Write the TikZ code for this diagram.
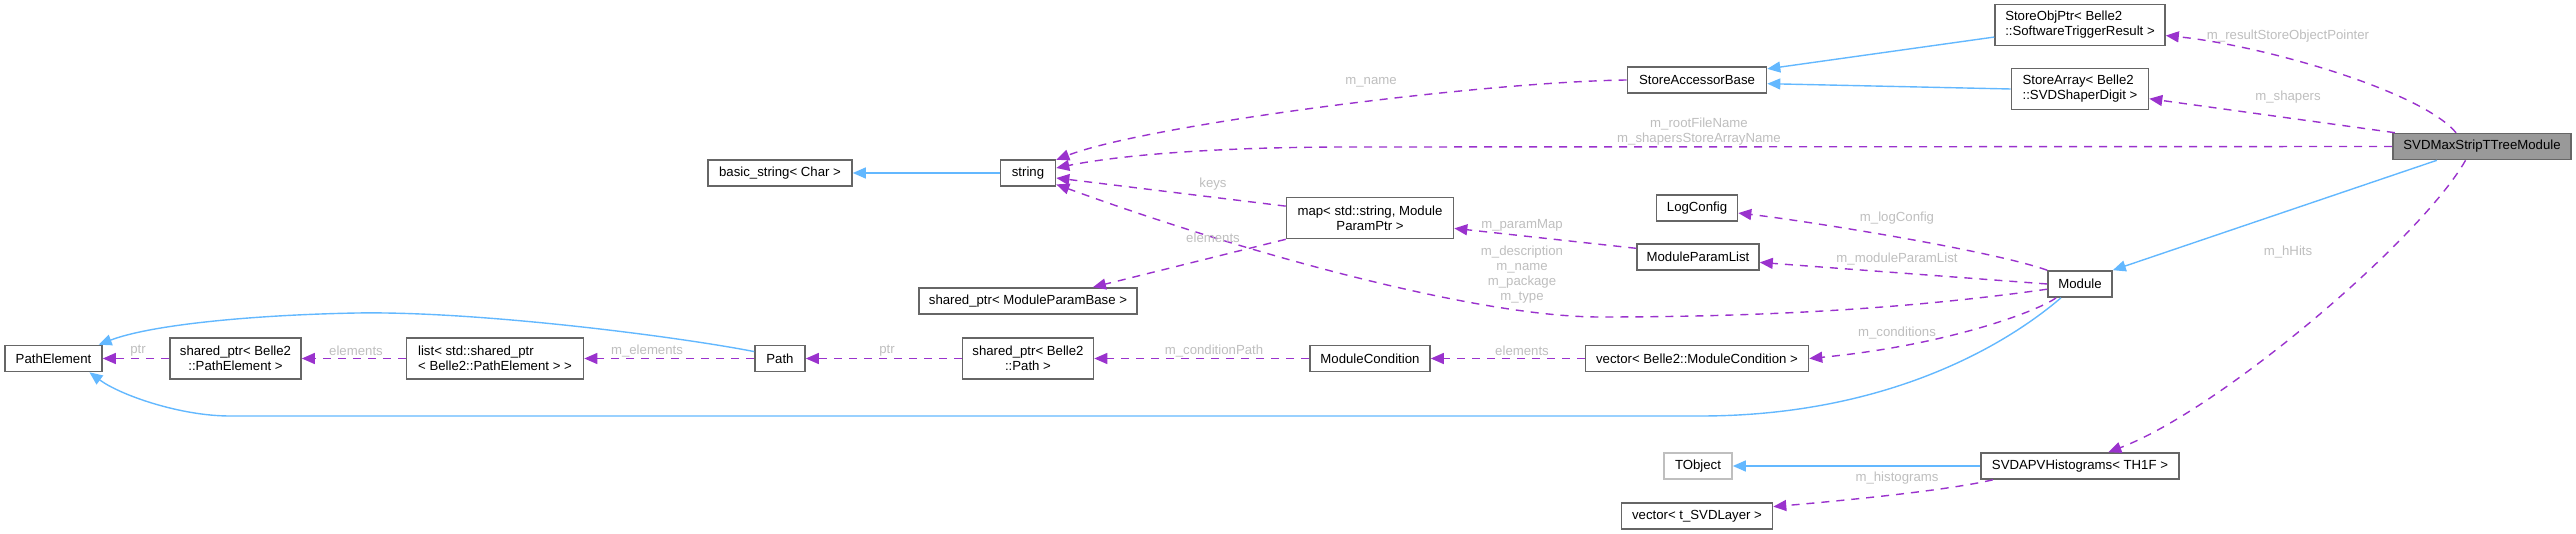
\documentclass[tikz,border=0pt]{standalone}
\usepackage{fontspec}
\setmainfont{Liberation Sans}
\usetikzlibrary{arrows.meta}
\definecolor{edgeblue}{HTML}{63B8FF}
\definecolor{edgepurple}{HTML}{9A32CD}
\definecolor{nodeborder}{HTML}{666666}
\definecolor{labelgray}{HTML}{BEBEBE}
\definecolor{lightborder}{HTML}{BFBFBF}
\definecolor{mainfill}{HTML}{999999}
\begin{document}
\begin{tikzpicture}[x=0.5pt,y=-0.5pt,
  font=\fontsize{6.6pt}{7.5pt}\selectfont,
  cls/.style={draw=nodeborder, line width=0.8pt, fill=white, inner sep=0pt, minimum height=13pt, align=center},
  cls2/.style={cls, minimum height=20.5pt},
  lbl/.style={text=labelgray, inner sep=0pt, align=center},
  inh/.style={draw=edgeblue, line width=0.7pt, -{Triangle[length=6.5pt,width=5.5pt]}, fill=none},
  dep/.style={draw=edgepurple, line width=0.7pt, dash pattern=on 4pt off 3.5pt, -{Triangle[length=6.5pt,width=5.5pt]}}
]
\useasboundingbox (0,0) rectangle (2576,534);
% nodes
\node[cls, fill=mainfill, minimum width=89pt] (svd) at (2482,146.5) {SVDMaxStripTTreeModule};
\node[cls2, minimum width=85pt, align=left] (sop) at (2080,25) {StoreObjPtr< Belle2\\::SoftwareTriggerResult >};
\node[cls2, minimum width=68.5pt, align=left] (sarr) at (2080,89) {StoreArray< Belle2\\::SVDShaperDigit >};
\node[cls, minimum width=69.5pt] (sab) at (1697,80) {StoreAccessorBase};
\node[cls, minimum width=27.5pt] (str) at (1028,173) {string};
\node[cls, minimum width=72pt] (bstr) at (780,173) {basic\_string< Char >};
\node[cls2, minimum width=83.5pt] (map) at (1370,218) {map< std::string, Module\\ParamPtr >};
\node[cls, minimum width=40.5pt] (logc) at (1697,208) {LogConfig};
\node[cls, minimum width=61pt] (mpl) at (1698,257) {ModuleParamList};
\node[cls, minimum width=109pt] (spmpb) at (1028,301) {shared\_ptr< ModuleParamBase >};
\node[cls, minimum width=32pt] (mod) at (2080,284) {Module};
\node[cls, minimum width=48.5pt] (pe) at (53.5,358.5) {PathElement};
\node[cls2, minimum width=65.5pt] (sppe) at (235.5,358.5) {shared\_ptr< Belle2\\::PathElement >};
\node[cls2, minimum width=88.5pt, align=left] (list) at (495,358.5) {list< std::shared\_ptr\\< Belle2::PathElement > >};
\node[cls, minimum width=25pt] (path) at (780,358.5) {Path};
\node[cls2, minimum width=65.5pt] (spp) at (1028,358.5) {shared\_ptr< Belle2\\::Path >};
\node[cls, minimum width=60pt] (mc) at (1370,358.5) {ModuleCondition};
\node[cls, minimum width=111.5pt] (vmc) at (1697,358.5) {vector< Belle2::ModuleCondition >};
\node[cls, draw=lightborder, minimum width=34pt] (tobj) at (1698,466) {TObject};
\node[cls, minimum width=99pt] (apv) at (2080,466) {SVDAPVHistograms< TH1F >};
\node[cls, minimum width=75.5pt] (vsl) at (1697,516) {vector< t\_SVDLayer >};
% edges
\draw[dep] (svd.152) .. controls (2420,90) and (2260,45) .. (sop.-7);
\draw[dep] (svd.171) -- (sarr.-8);
\draw[dep] (svd.west) -- (1350,147) .. controls (1200,147) and (1110,157) .. (str.10);
\draw[dep] (sab.west) .. controls (1480,82) and (1146,125) .. (str.25);
\draw[inh] (sop.188) -- (sab.9);
\draw[inh] (sarr.west) -- (sab.-3);
\draw[inh] (str.west) -- (bstr.east);
\draw[dep] (map.172) -- (str.-10);
\draw[dep] (map.south west) -- (spmpb.12);
\draw[dep] (mod.189) .. controls (1900,310) and (1750,317) .. (1600,317) .. controls (1480,317) and (1250,255) .. (str.-22);
\draw[dep] (mpl.172) -- (map.-7);
\draw[dep] (mod.north west) .. controls (1990,250) and (1800,220) .. (logc.-7);
\draw[dep] (mod.west) -- (mpl.-5);
\draw[dep] (mod.210) .. controls (2040,310) and (1950,345) .. (vmc.east);
\draw[dep] (vmc.west) -- (mc.east);
\draw[dep] (mc.west) -- (spp.east);
\draw[dep] (spp.west) -- (path.east);
\draw[dep] (path.west) -- (list.east);
\draw[dep] (list.west) -- (sppe.east);
\draw[dep] (sppe.west) -- (pe.east);
\draw[inh] (path.165) .. controls (680,337) and (480,311) .. (357,313) .. controls (250,315) and (150,325) .. (pe.17);
\draw[inh] (mod.216) .. controls (2000,350) and (1880,416) .. (1700,416) -- (230,416) .. controls (180,416) and (120,395) .. (pe.-21);
\draw[inh] (apv.west) -- (tobj.east);
\draw[dep] (apv.189) .. controls (1950,490) and (1850,500) .. (vsl.7);
\draw[inh] (svd.197) -- (mod.north east);
\draw[dep] (svd.220) .. controls (2420,240) and (2220,410) .. (apv.26);
% labels
\node[lbl] (l1) at (2288,36) {m\_resultStoreObjectPointer};
\node[lbl] (l2) at (2288,97) {m\_shapers};
\node[lbl] (l3) at (1699,131.5) {m\_rootFileName\\m\_shapersStoreArrayName};
\node[lbl] (l4) at (1371,82) {m\_name};
\node[lbl] (l5) at (1213,184) {keys};
\node[lbl] (l6) at (1213,238) {elements};
\node[lbl] (l7) at (1522,275) {m\_description\\m\_name\\m\_package\\m\_type};
\node[lbl] (l8) at (1522,225) {m\_paramMap};
\node[lbl] (l9) at (1897,218) {m\_logConfig};
\node[lbl] (l10) at (1897,259) {m\_moduleParamList};
\node[lbl] (l11) at (1897,333) {m\_conditions};
\node[lbl] (l12) at (1522,351) {elements};
\node[lbl] (l13) at (1214,351) {m\_conditionPath};
\node[lbl] (l14) at (887,351) {ptr};
\node[lbl] (l15) at (647,351) {m\_elements};
\node[lbl] (l16) at (356,351) {elements};
\node[lbl] (l17) at (138,351) {ptr};
\node[lbl] (l18) at (2288,252) {m\_hHits};
\node[lbl] (l19) at (1897,478) {m\_histograms};
\end{tikzpicture}
\end{document}
